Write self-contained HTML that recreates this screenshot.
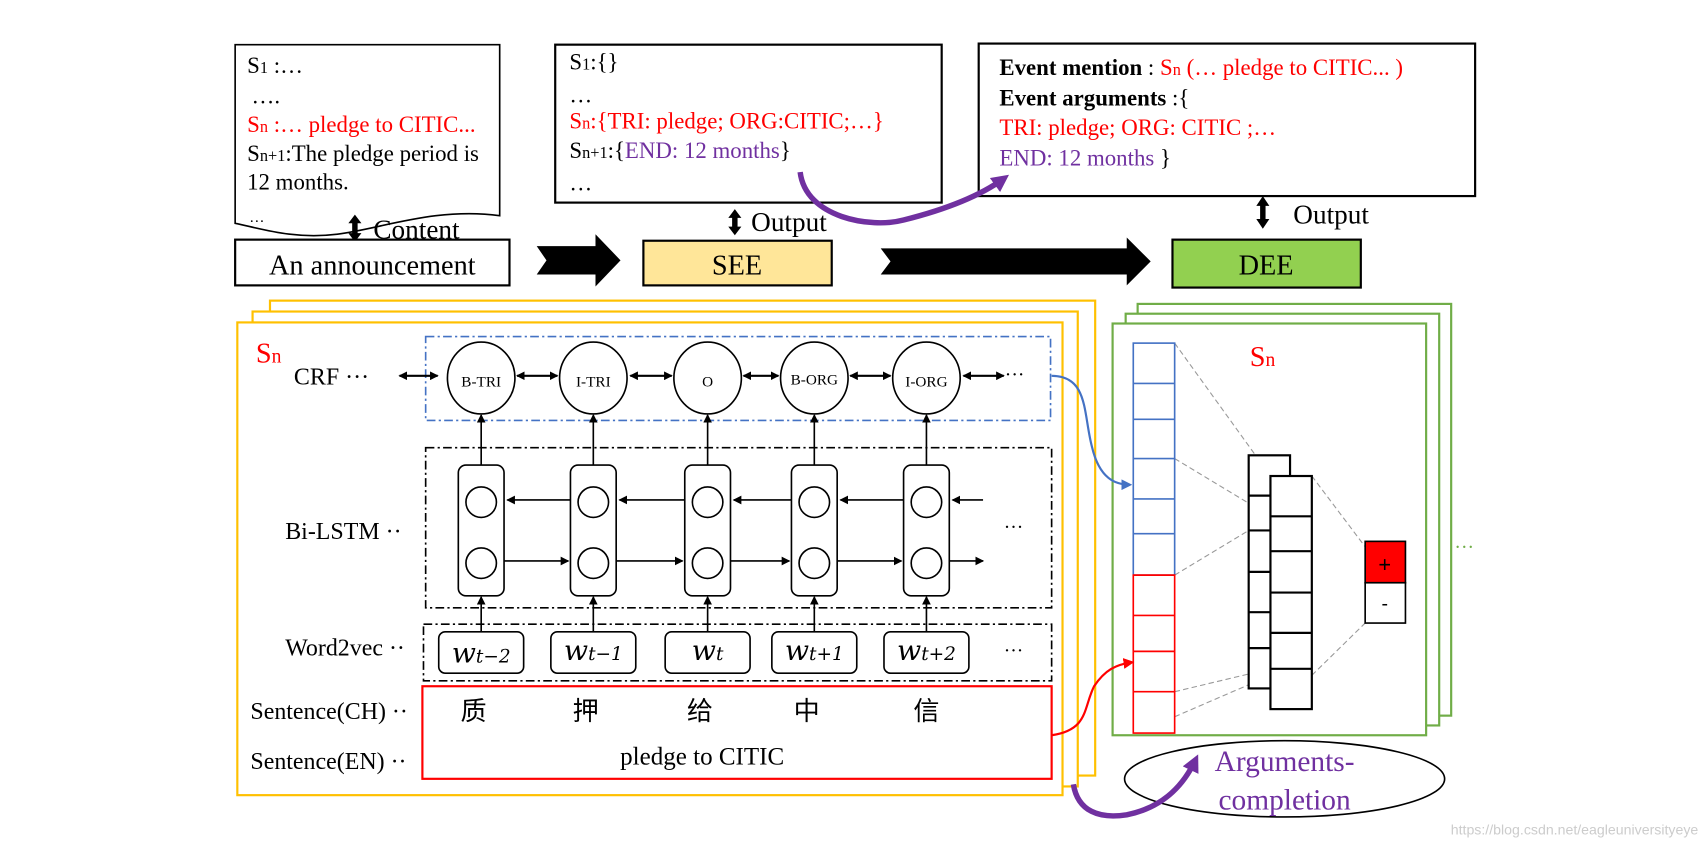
<!DOCTYPE html>
<html><head><meta charset="utf-8"><style>html,body{margin:0;padding:0;background:#fff;}svg{display:block}</style></head><body>
<svg width="1707" height="842" viewBox="0 0 1568 773" preserveAspectRatio="none" xmlns="http://www.w3.org/2000/svg" font-family="Liberation Serif, Noto Serif CJK SC, serif">
<defs>
<marker id="ah" markerWidth="8" markerHeight="8" refX="7" refY="4" orient="auto" markerUnits="userSpaceOnUse"><path d="M0,0 L8,4 L0,8 z" fill="#000"/></marker>
<marker id="ahs" markerWidth="8" markerHeight="8" refX="1" refY="4" orient="auto" markerUnits="userSpaceOnUse"><path d="M8,0 L0,4 L8,8 z" fill="#000"/></marker>
<marker id="ahb" markerWidth="10" markerHeight="10" refX="8" refY="5" orient="auto" markerUnits="userSpaceOnUse"><path d="M0,0 L10,5 L0,10 z" fill="#4472C4"/></marker>
<marker id="ahr" markerWidth="10" markerHeight="10" refX="8" refY="5" orient="auto" markerUnits="userSpaceOnUse"><path d="M0,0 L10,5 L0,10 z" fill="#f00"/></marker>
<marker id="ahp" markerWidth="16" markerHeight="16" refX="10" refY="8" orient="auto" markerUnits="userSpaceOnUse"><path d="M0,0 L16,8 L0,16 z" fill="#7030A0"/></marker>
</defs>
<rect width="1568" height="773" fill="#fff"/>

<!-- document box -->
<path d="M216,41 L459,41 L459,198 C400,190 350,210 310,215 C270,220 240,210 216,205 Z" fill="#fff" stroke="#000" stroke-width="1.5"/>
<g font-size="21">
<text x="227" y="67">S<tspan font-size="15">1</tspan> :…</text>
<text x="231" y="95">….</text>
<text x="227" y="121" fill="#f00">S<tspan font-size="15">n</tspan> :… pledge to CITIC...</text>
<text x="227" y="148">S<tspan font-size="15">n+1</tspan>:The pledge period is</text>
<text x="227" y="174">12 months.</text>
<text x="229" y="204" font-size="14">…</text>
</g>
<!-- content arrow -->
<path d="M326,197 L332,205 L328.5,205 L328.5,214 L332,214 L326,222 L320,214 L323.5,214 L323.5,205 L320,205 Z" fill="#000"/>
<text x="343" y="219" font-size="25">Content</text>
<rect x="216" y="220" width="252" height="42" fill="#fff" stroke="#000" stroke-width="2"/>
<text x="342" y="252" font-size="26" text-anchor="middle">An announcement</text>
<path d="M493,226 L547,226 L547,215 L570,239 L547,263 L547,252 L493,252 L502,239 Z" fill="#000"/>
<rect x="591" y="221" width="173" height="41" fill="#FFE699" stroke="#000" stroke-width="2"/>
<text x="677" y="252" font-size="26" text-anchor="middle">SEE</text>
<path d="M675,192 L681,200 L677.5,200 L677.5,208 L681,208 L675,216 L669,208 L672.5,208 L672.5,200 L669,200 Z" fill="#000"/>
<text x="690" y="212" font-size="25">Output</text>

<!-- SEE output box -->
<rect x="510" y="41" width="355" height="145" fill="#fff" stroke="#000" stroke-width="2"/>
<g font-size="21">
<text x="523" y="64">S<tspan font-size="15">1</tspan>:{}</text>
<text x="523" y="94">…</text>
<text x="523" y="118" fill="#f00">S<tspan font-size="15">n</tspan>:{TRI: pledge; ORG:CITIC;…}</text>
<text x="523" y="145">S<tspan font-size="15">n+1</tspan>:{<tspan fill="#7030A0">END: 12 months</tspan>}</text>
<text x="523" y="175">…</text>
</g>

<path d="M809,228 L1035,228 L1035,218 L1057,240 L1035,262 L1035,252 L809,252 L818,240 Z" fill="#000"/>
<rect x="1077" y="220" width="173" height="44" fill="#92D050" stroke="#000" stroke-width="2"/>
<text x="1163" y="252" font-size="26" text-anchor="middle">DEE</text>
<path d="M1160,180 L1166,189 L1162.5,189 L1162.5,201 L1166,201 L1160,210 L1154,201 L1157.5,201 L1157.5,189 L1154,189 Z" fill="#000"/>
<text x="1188" y="205" font-size="25">Output</text>

<!-- event box -->
<rect x="899" y="40" width="456" height="140" fill="#fff" stroke="#000" stroke-width="2"/>
<g font-size="21">
<text x="918" y="69"><tspan font-weight="bold">Event mention</tspan> : <tspan fill="#f00">S<tspan font-size="15">n</tspan>  (… pledge to CITIC... )</tspan></text>
<text x="918" y="97"><tspan font-weight="bold">Event arguments</tspan> :{</text>
<text x="918" y="124" fill="#f00">TRI: pledge; ORG: CITIC ;…</text>
<text x="918" y="152"><tspan fill="#7030A0">END: 12 months</tspan> }</text>
</g>
<path d="M735,158 C740,200 800,210 830,202 C870,192 900,180 922,164" fill="none" stroke="#7030A0" stroke-width="5" marker-end="url(#ahp)"/>

<!-- orange frames -->
<rect x="248" y="276" width="758" height="436" fill="#fff" stroke="#FFC000" stroke-width="2"/>
<rect x="232" y="286" width="758" height="436" fill="#fff" stroke="#FFC000" stroke-width="2"/>
<rect x="218" y="296" width="758" height="434" fill="#fff" stroke="#FFC000" stroke-width="2"/>
<text x="235" y="333" font-size="26" fill="#f00">S<tspan font-size="18">n</tspan></text>

<rect x="391" y="309" width="574" height="77" fill="none" stroke="#4472C4" stroke-width="1.5" stroke-dasharray="8,3,2,3"/>
<text x="270" y="353" font-size="22">CRF ···</text>
<line x1="367" y1="345" x2="402" y2="345" stroke="#000" stroke-width="2" marker-start="url(#ahs)" marker-end="url(#ah)"/>
<g fill="#fff" stroke="#000" stroke-width="1.5">
<ellipse cx="442" cy="347" rx="31" ry="33"/><ellipse cx="545" cy="347" rx="31" ry="33"/><ellipse cx="650" cy="347" rx="31" ry="33"/><ellipse cx="748" cy="347" rx="31" ry="33"/><ellipse cx="851" cy="347" rx="31" ry="33"/>
</g>
<g font-size="14" text-anchor="middle">
<text x="442" y="355">B-TRI</text><text x="545" y="355">I-TRI</text><text x="650" y="355">O</text><text x="748" y="353">B-ORG</text><text x="851" y="355">I-ORG</text>
</g>
<g stroke="#000" stroke-width="2">
<line x1="475" y1="345" x2="512" y2="345" marker-start="url(#ahs)" marker-end="url(#ah)"/>
<line x1="579" y1="345" x2="617" y2="345" marker-start="url(#ahs)" marker-end="url(#ah)"/>
<line x1="683" y1="345" x2="715" y2="345" marker-start="url(#ahs)" marker-end="url(#ah)"/>
<line x1="781" y1="345" x2="818" y2="345" marker-start="url(#ahs)" marker-end="url(#ah)"/>
<line x1="885" y1="345" x2="922" y2="345" marker-start="url(#ahs)" marker-end="url(#ah)"/>
</g>
<text x="923" y="350" font-size="18">···</text>

<rect x="391" y="411" width="575" height="147" fill="none" stroke="#000" stroke-width="1.5" stroke-dasharray="8,3,2,3"/>
<text x="262" y="495" font-size="22">Bi-LSTM ··</text>
<text x="922" y="490" font-size="18">···</text>
<g fill="#fff" stroke="#000" stroke-width="1.5">
<rect x="421" y="427" width="42" height="120" rx="7"/><rect x="524" y="427" width="42" height="120" rx="7"/><rect x="629" y="427" width="42" height="120" rx="7"/><rect x="727" y="427" width="42" height="120" rx="7"/><rect x="830" y="427" width="42" height="120" rx="7"/>
<circle cx="442" cy="461" r="14"/><circle cx="545" cy="461" r="14"/><circle cx="650" cy="461" r="14"/><circle cx="748" cy="461" r="14"/><circle cx="851" cy="461" r="14"/>
<circle cx="442" cy="517" r="14"/><circle cx="545" cy="517" r="14"/><circle cx="650" cy="517" r="14"/><circle cx="748" cy="517" r="14"/><circle cx="851" cy="517" r="14"/>
</g>
<g stroke="#000" stroke-width="1.5">
<line x1="524" y1="459" x2="466" y2="459" marker-end="url(#ah)"/>
<line x1="629" y1="459" x2="569" y2="459" marker-end="url(#ah)"/>
<line x1="727" y1="459" x2="674" y2="459" marker-end="url(#ah)"/>
<line x1="830" y1="459" x2="772" y2="459" marker-end="url(#ah)"/>
<line x1="903" y1="459" x2="875" y2="459" marker-end="url(#ah)"/>
<line x1="463" y1="515" x2="522" y2="515" marker-end="url(#ah)"/>
<line x1="566" y1="515" x2="627" y2="515" marker-end="url(#ah)"/>
<line x1="671" y1="515" x2="725" y2="515" marker-end="url(#ah)"/>
<line x1="769" y1="515" x2="828" y2="515" marker-end="url(#ah)"/>
<line x1="872" y1="515" x2="903" y2="515" marker-end="url(#ah)"/>
<line x1="442" y1="427" x2="442" y2="381" marker-end="url(#ah)"/>
<line x1="545" y1="427" x2="545" y2="381" marker-end="url(#ah)"/>
<line x1="650" y1="427" x2="650" y2="381" marker-end="url(#ah)"/>
<line x1="748" y1="427" x2="748" y2="381" marker-end="url(#ah)"/>
<line x1="851" y1="427" x2="851" y2="381" marker-end="url(#ah)"/>
<line x1="442" y1="580" x2="442" y2="548" marker-end="url(#ah)"/>
<line x1="545" y1="580" x2="545" y2="548" marker-end="url(#ah)"/>
<line x1="650" y1="580" x2="650" y2="548" marker-end="url(#ah)"/>
<line x1="748" y1="580" x2="748" y2="548" marker-end="url(#ah)"/>
<line x1="851" y1="580" x2="851" y2="548" marker-end="url(#ah)"/>
</g>

<rect x="389" y="573" width="577" height="52" fill="none" stroke="#000" stroke-width="1.5" stroke-dasharray="8,3,2,3"/>
<text x="262" y="602" font-size="22">Word2vec ··</text>
<g fill="#fff" stroke="#000" stroke-width="1.5">
<rect x="403" y="580" width="78" height="38" rx="6"/><rect x="506" y="580" width="78" height="38" rx="6"/><rect x="611" y="580" width="78" height="38" rx="6"/><rect x="709" y="580" width="78" height="38" rx="6"/><rect x="812" y="580" width="78" height="38" rx="6"/>
</g>
<g font-size="26" font-family="DejaVu Serif, serif" font-style="italic" text-anchor="middle">
<text x="442" y="608">w<tspan font-size="17">t−2</tspan></text>
<text x="545" y="606">w<tspan font-size="17">t−1</tspan></text>
<text x="650" y="606">w<tspan font-size="17">t</tspan></text>
<text x="748" y="606">w<tspan font-size="17">t+1</tspan></text>
<text x="851" y="606">w<tspan font-size="17">t+2</tspan></text>
</g>
<text x="922" y="603" font-size="18">···</text>

<rect x="388" y="630" width="578" height="85" fill="none" stroke="#f00" stroke-width="2"/>
<text x="230" y="660" font-size="22">Sentence(CH) ··</text>
<text x="230" y="706" font-size="22">Sentence(EN) ··</text>
<g font-size="24" font-family="Noto Sans CJK SC, sans-serif" text-anchor="middle">
<text x="435" y="661">质</text><text x="538" y="661">押</text><text x="643" y="661">给</text><text x="741" y="661">中</text><text x="851" y="661">信</text>
</g>
<text x="645" y="702" font-size="23" text-anchor="middle">pledge to CITIC</text>

<!-- green frames -->
<rect x="1045" y="279" width="288" height="378" fill="#fff" stroke="#70AD47" stroke-width="2"/>
<rect x="1034" y="288" width="288" height="378" fill="#fff" stroke="#70AD47" stroke-width="2"/>
<rect x="1022" y="297" width="288" height="378" fill="#fff" stroke="#70AD47" stroke-width="2"/>
<text x="1148" y="336" font-size="26" fill="#f00">S<tspan font-size="18">n</tspan></text>
<text x="1336" y="508" font-size="18" fill="#70AD47">···</text>

<g stroke="#999" stroke-width="1" stroke-dasharray="5,3" fill="none">
<line x1="1079" y1="315" x2="1167" y2="437"/><line x1="1079" y1="421" x2="1167" y2="474"/>
<line x1="1079" y1="528" x2="1147" y2="487"/><line x1="1079" y1="635" x2="1167" y2="614"/>
<line x1="1079" y1="658" x2="1167" y2="620"/>
<line x1="1205" y1="437" x2="1254" y2="502"/><line x1="1205" y1="620" x2="1254" y2="572"/>
</g>
<g fill="#fff" stroke-width="1.5">
<rect x="1041" y="315" width="38" height="213" stroke="#4472C4"/>
<rect x="1041" y="528" width="38" height="145" stroke="#f00"/>
</g>
<g stroke="#4472C4" stroke-width="1.5"><line x1="1041" y1="352" x2="1079" y2="352"/><line x1="1041" y1="385" x2="1079" y2="385"/><line x1="1041" y1="421" x2="1079" y2="421"/><line x1="1041" y1="458" x2="1079" y2="458"/><line x1="1041" y1="490" x2="1079" y2="490"/></g>
<g stroke="#f00" stroke-width="1.5"><line x1="1041" y1="528" x2="1079" y2="528"/><line x1="1041" y1="565" x2="1079" y2="565"/><line x1="1041" y1="598" x2="1079" y2="598"/><line x1="1041" y1="635" x2="1079" y2="635"/></g>

<rect x="1147" y="418" width="38" height="214" fill="#fff" stroke="#000" stroke-width="2"/>
<g stroke="#000" stroke-width="2"><line x1="1147" y1="455" x2="1185" y2="455"/><line x1="1147" y1="487" x2="1185" y2="487"/><line x1="1147" y1="525" x2="1185" y2="525"/><line x1="1147" y1="562" x2="1185" y2="562"/><line x1="1147" y1="595" x2="1185" y2="595"/></g>
<rect x="1167" y="437" width="38" height="214" fill="#fff" stroke="#000" stroke-width="2"/>
<g stroke="#000" stroke-width="2"><line x1="1167" y1="474" x2="1205" y2="474"/><line x1="1167" y1="506" x2="1205" y2="506"/><line x1="1167" y1="544" x2="1205" y2="544"/><line x1="1167" y1="581" x2="1205" y2="581"/><line x1="1167" y1="614" x2="1205" y2="614"/></g>

<rect x="1254" y="497" width="37" height="38" fill="#f00" stroke="#000" stroke-width="1.5"/>
<rect x="1254" y="535" width="37" height="37" fill="#fff" stroke="#000" stroke-width="1.5"/>
<text x="1272" y="525" font-size="20" text-anchor="middle" font-family="Liberation Sans, sans-serif">+</text>
<text x="1272" y="560" font-size="18" text-anchor="middle" font-family="Liberation Sans, sans-serif">-</text>

<path d="M966,345 C1000,345 995,380 1003,410 C1010,440 1025,445 1038,445" fill="none" stroke="#4472C4" stroke-width="2" marker-end="url(#ahb)"/>
<path d="M966,675 C1000,670 995,650 1005,630 C1015,615 1025,610 1040,608" fill="none" stroke="#f00" stroke-width="2" marker-end="url(#ahr)"/>

<ellipse cx="1180" cy="715" rx="147" ry="35" fill="#fff" stroke="#000" stroke-width="1.5"/>
<text x="1180" y="708" font-size="27" fill="#7030A0" text-anchor="middle">Arguments-</text>
<text x="1180" y="743" font-size="27" fill="#7030A0" text-anchor="middle">completion</text>
<path d="M986,720 C990,745 1010,752 1035,748 C1065,742 1085,725 1098,698" fill="none" stroke="#7030A0" stroke-width="5" marker-end="url(#ahp)"/>
<text x="1560" y="766" font-size="13" fill="#ccc" text-anchor="end" font-family="Liberation Sans, sans-serif">https://blog.csdn.net/eagleuniversityeye</text>
</svg>
</body></html>
